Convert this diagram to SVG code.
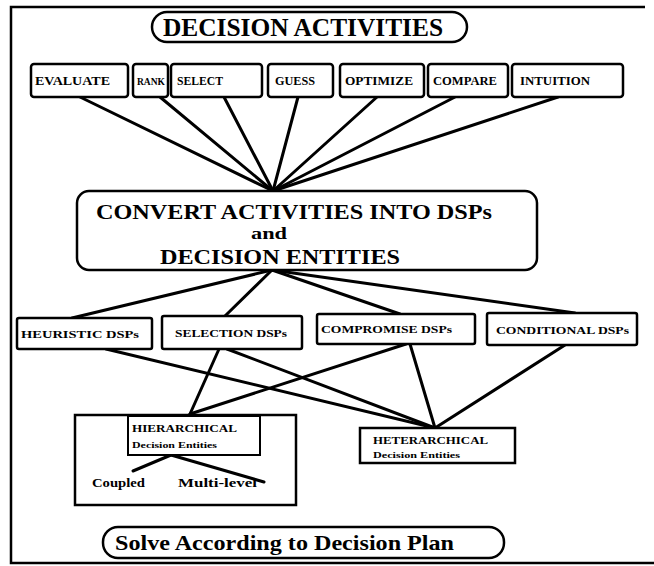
<svg xmlns="http://www.w3.org/2000/svg" width="654" height="566" viewBox="0 0 654 566">
<style>
.box{fill:#fff;stroke:#000;stroke-width:2.5}
.open{fill:none;stroke:#000;stroke-width:2.5}
.thin{fill:#fff;stroke:#000;stroke-width:2}
.ln{stroke:#000;stroke-width:3;stroke-linecap:round;fill:none}
.t{font-family:"Liberation Serif","Times New Roman",serif;font-weight:bold;fill:#000}
</style>
<rect width="654" height="566" fill="#fff"/>
<g id="frame" fill="none" stroke="#000" stroke-width="2.5">
<path d="M645 7 H11 V563 H654"/>
</g>
<g id="connectors">
<line class="ln" x1="80" y1="97" x2="273" y2="191"/>
<line class="ln" x1="160" y1="97" x2="273" y2="191"/>
<line class="ln" x1="224" y1="97" x2="273" y2="191"/>
<line class="ln" x1="298" y1="97" x2="273" y2="191"/>
<line class="ln" x1="377" y1="97" x2="273" y2="191"/>
<line class="ln" x1="455" y1="97" x2="273" y2="191"/>
<line class="ln" x1="558" y1="97" x2="273" y2="191"/>
<line class="ln" x1="272" y1="270" x2="72" y2="318"/>
<line class="ln" x1="272" y1="270" x2="225" y2="316"/>
<line class="ln" x1="272" y1="270" x2="400" y2="314"/>
<line class="ln" x1="272" y1="270" x2="575" y2="313"/>
<line class="ln" x1="106" y1="349" x2="435" y2="428"/>
<line class="ln" x1="219" y1="349" x2="190" y2="414"/>
<line class="ln" x1="227" y1="349" x2="435" y2="428"/>
<line class="ln" x1="406" y1="344" x2="190" y2="414"/>
<line class="ln" x1="410" y1="344" x2="435" y2="428"/>
<line class="ln" x1="565" y1="345" x2="435" y2="428"/>
<line class="ln" x1="171" y1="455" x2="133" y2="471"/>
<line class="ln" x1="171" y1="455" x2="264" y2="482"/>
</g>
<g id="title">
<rect class="box" x="152" y="12" width="315" height="30" rx="15"/>
<text class="t" x="163" y="36" font-size="25" textLength="280" lengthAdjust="spacingAndGlyphs">DECISION ACTIVITIES</text>
</g>
<g id="evaluate"><rect class="box" x="31" y="64" width="97" height="33" rx="3"/><text class="t" x="35" y="85" font-size="12" textLength="75" lengthAdjust="spacingAndGlyphs">EVALUATE</text></g>
<g id="rank"><rect class="box" x="133" y="64" width="35" height="33" rx="3"/><text class="t" x="137" y="85" font-size="11" textLength="28" lengthAdjust="spacingAndGlyphs">RANK</text></g>
<g id="select"><rect class="box" x="171" y="64" width="91" height="33" rx="3"/><text class="t" x="177" y="85" font-size="12" textLength="46" lengthAdjust="spacingAndGlyphs">SELECT</text></g>
<g id="guess"><rect class="box" x="268" y="64" width="65" height="33" rx="3"/><text class="t" x="275" y="85" font-size="12" textLength="40" lengthAdjust="spacingAndGlyphs">GUESS</text></g>
<g id="optimize"><rect class="box" x="340" y="64" width="84" height="33" rx="3"/><text class="t" x="345" y="85" font-size="12" textLength="68" lengthAdjust="spacingAndGlyphs">OPTIMIZE</text></g>
<g id="compare"><rect class="box" x="428" y="64" width="80" height="33" rx="3"/><text class="t" x="433" y="85" font-size="12" textLength="64" lengthAdjust="spacingAndGlyphs">COMPARE</text></g>
<g id="intuition"><rect class="box" x="512" y="64" width="111" height="33" rx="3"/><text class="t" x="520" y="85" font-size="12" textLength="70" lengthAdjust="spacingAndGlyphs">INTUITION</text></g>
<g id="convert">
<rect class="box" x="77" y="191" width="460" height="79" rx="12"/>
<text class="t" x="96" y="219" font-size="20" textLength="396" lengthAdjust="spacingAndGlyphs">CONVERT ACTIVITIES INTO DSPs</text>
<text class="t" x="251" y="239" font-size="16" textLength="36" lengthAdjust="spacingAndGlyphs">and</text>
<text class="t" x="160" y="264" font-size="20" textLength="240" lengthAdjust="spacingAndGlyphs">DECISION ENTITIES</text>
</g>
<g id="heuristic"><rect class="box" x="17" y="318" width="135" height="31" rx="2"/><text class="t" x="21" y="338" font-size="11" textLength="118" lengthAdjust="spacingAndGlyphs">HEURISTIC DSPs</text></g>
<g id="selection"><rect class="box" x="162" y="316" width="140" height="33" rx="2"/><text class="t" x="175" y="337" font-size="11" textLength="112" lengthAdjust="spacingAndGlyphs">SELECTION DSPs</text></g>
<g id="compromise"><rect class="box" x="317" y="314" width="158" height="30" rx="2"/><text class="t" x="321" y="333" font-size="11" textLength="131" lengthAdjust="spacingAndGlyphs">COMPROMISE DSPs</text></g>
<g id="conditional"><rect class="box" x="487" y="313" width="150" height="32" rx="2"/><text class="t" x="496" y="334" font-size="11" textLength="133" lengthAdjust="spacingAndGlyphs">CONDITIONAL DSPs</text></g>
<g id="hierarchical">
<rect class="open" x="75" y="415" width="221" height="90"/>
<rect class="thin" x="128" y="416" width="132" height="39"/>
<text class="t" x="132" y="432" font-size="10" textLength="105" lengthAdjust="spacingAndGlyphs">HIERARCHICAL</text>
<text class="t" x="132" y="448" font-size="9" textLength="85" lengthAdjust="spacingAndGlyphs">Decision Entities</text>
</g>
<g id="coupled"><text class="t" x="92" y="487" font-size="13" textLength="53" lengthAdjust="spacingAndGlyphs">Coupled</text></g>
<g id="multilevel"><text class="t" x="178" y="487" font-size="13" textLength="79" lengthAdjust="spacingAndGlyphs">Multi-level</text></g>
<g id="heterarchical">
<rect class="box" x="360" y="428" width="155" height="35"/>
<text class="t" x="373" y="444" font-size="10" textLength="115" lengthAdjust="spacingAndGlyphs">HETERARCHICAL</text>
<text class="t" x="373" y="458" font-size="9" textLength="87" lengthAdjust="spacingAndGlyphs">Decision Entities</text>
</g>
<g id="solve">
<rect class="box" x="103" y="527" width="401" height="31" rx="15"/>
<text class="t" x="115" y="550" font-size="22" textLength="339" lengthAdjust="spacingAndGlyphs">Solve According to Decision Plan</text>
</g>
</svg>
